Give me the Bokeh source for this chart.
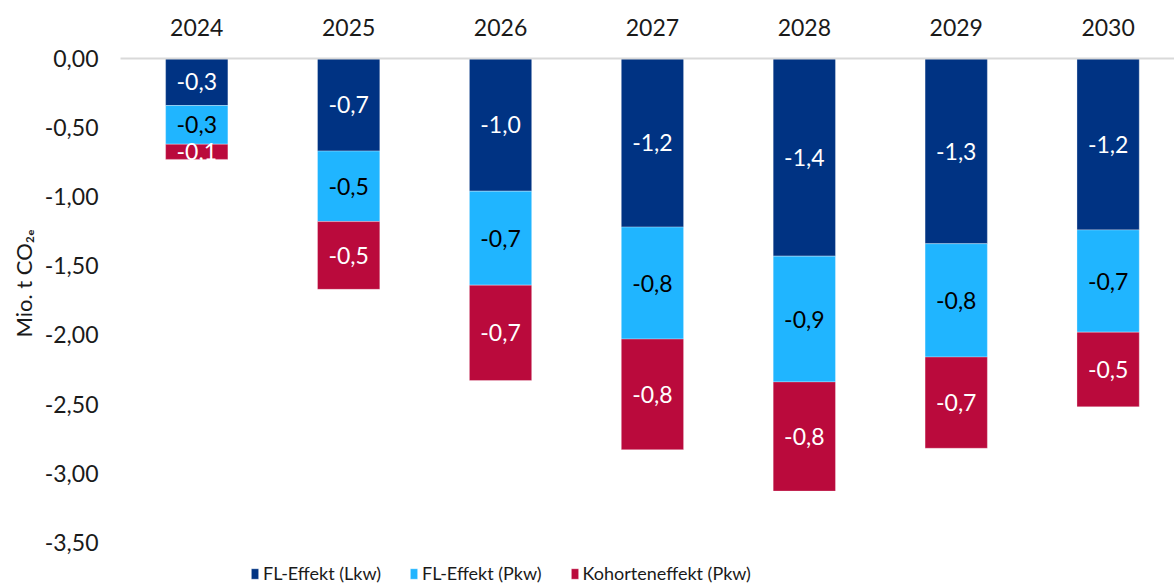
from bokeh.plotting import figure
from bokeh.models import (Range1d, FixedTicker, ColumnDataSource, Legend, LegendItem,
                          Title, CustomJSTickFormatter)
from bokeh.embed import file_html
from bokeh.resources import INLINE
from bokeh.core.properties import value

# ---- data ----
years = ["2024", "2025", "2026", "2027", "2028", "2029", "2030"]
fl_lkw = [-0.34, -0.67, -0.96, -1.22, -1.43, -1.34, -1.24]
fl_pkw = [-0.28, -0.51, -0.68, -0.81, -0.91, -0.82, -0.74]
kohorte = [-0.11, -0.49, -0.69, -0.80, -0.79, -0.66, -0.54]
series_names = ["FL-Effekt (Lkw)", "FL-Effekt (Pkw)", "Kohorteneffekt (Pkw)"]
y_ticks = [0.0, -0.5, -1.0, -1.5, -2.0, -2.5, -3.0, -3.5]
y_title = "Mio. t CO\u2082\u2091"

colors = ["#003383", "#20B5FF", "#BA0A3C"]
label_colors = ["#ffffff", "#000000", "#ffffff"]
FONT = "Lato"
TXT = "#1a1a1a"

xs = list(range(len(years)))

p = figure(width=1174, height=585,
           x_range=Range1d(-0.502, 6.437), y_range=Range1d(-3.813, 0),
           x_axis_location="above",
           output_backend="svg", toolbar_location=None,
           min_border_left=120, min_border_top=58, min_border_right=0,
           min_border_bottom=0)
p.outline_line_color = None
p.xgrid.visible = False
p.ygrid.visible = False
p.background_fill_color = "white"
p.border_fill_color = "white"

# stacked bars
renderers = []
bottoms = [0.0] * len(years)
for name, vals, col, lcol in zip(series_names, [fl_lkw, fl_pkw, kohorte], colors, label_colors):
    tops = bottoms
    bots = [t + v for t, v in zip(tops, vals)]
    mids = [(t + b) / 2 for t, b in zip(tops, bots)]
    labels = [f"{v:.1f}".replace(".", ",") for v in vals]
    src = ColumnDataSource(dict(x=xs, top=tops, bottom=bots, mid=mids, label=labels))
    r = p.vbar(x="x", top="top", bottom="bottom", width=0.41, source=src,
               fill_color=col, line_color="white", line_width=0.6, line_alpha=0.5)
    renderers.append(r)
    p.text(x="x", y="mid", text="label", source=src, text_align="center",
           text_baseline="middle", text_color=lcol, text_font=value(FONT),
           text_font_size="23px")
    bottoms = bots

# x axis (top)
xa = p.xaxis[0]
xa.ticker = FixedTicker(ticks=xs)
xa.major_label_overrides = {i: y for i, y in zip(xs, years)}
xa.axis_line_color = "#d9d9d9"
xa.axis_line_width = 2
xa.major_tick_line_color = None
xa.minor_tick_line_color = None
xa.major_tick_in = 0
xa.major_tick_out = 0
xa.major_label_standoff = 23
xa.major_label_text_font = FONT
xa.major_label_text_font_size = "23px"
xa.major_label_text_color = TXT

# y axis
ya = p.yaxis[0]
ya.ticker = FixedTicker(ticks=y_ticks)
ya.formatter = CustomJSTickFormatter(code="return tick.toFixed(2).replace('.', ',');")
ya.axis_line_color = None
ya.major_tick_line_color = None
ya.minor_tick_line_color = None
ya.major_tick_in = 0
ya.major_tick_out = 0
ya.major_label_standoff = 22
ya.major_label_text_font = FONT
ya.major_label_text_font_size = "23px"
ya.major_label_text_color = TXT

p.add_layout(Title(text=y_title, align="left", offset=248, standoff=10,
                   text_font=FONT, text_font_size="22px", text_font_style="normal",
                   text_color=TXT), "left")

legend = Legend(items=[LegendItem(label=n, renderers=[r]) for n, r in zip(series_names, renderers)],
                orientation="horizontal", location=(130, 1),
                label_text_font=FONT, label_text_font_size="18px", label_text_color=TXT,
                glyph_width=9, glyph_height=13, label_standoff=4, spacing=28,
                padding=2, margin=0, border_line_color=None,
                background_fill_alpha=0)
p.add_layout(legend, "center")

open("out.html", "w").write(file_html(p, INLINE))
